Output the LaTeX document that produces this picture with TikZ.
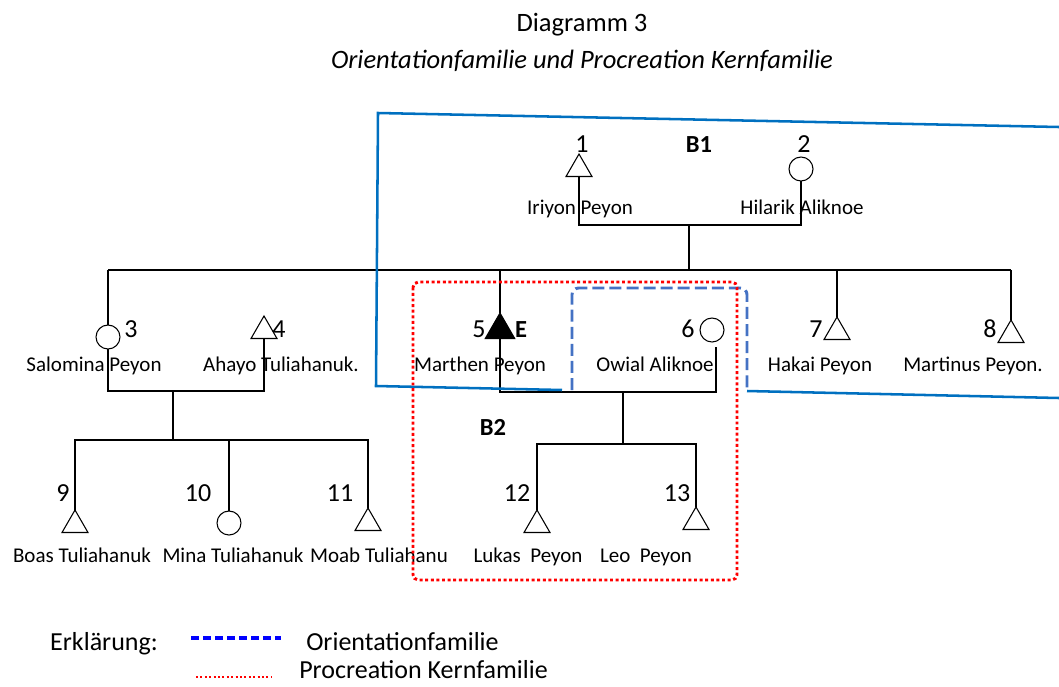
\documentclass[tikz,border=0pt]{standalone}
\usepackage{fontspec}
\setmainfont{Carlito}
\usetikzlibrary{shapes.geometric}
\definecolor{kinblue}{HTML}{0070C0}
\definecolor{orientblue}{HTML}{4472C4}
\definecolor{procred}{HTML}{FF0000}
\definecolor{legblue}{HTML}{0000FF}
\begin{document}
\begin{tikzpicture}[x=0.75pt,y=-0.75pt,
  male/.style={draw, fill=white, regular polygon, regular polygon sides=3,
    minimum size=22.5pt, inner sep=0pt, outer sep=0pt, line width=0.8pt},
  ego/.style={male, fill=black, minimum size=25.5pt},
  female/.style={draw, fill=white, circle, minimum size=18pt, inner sep=0pt,
    outer sep=0pt, line width=0.8pt},
  numlabel/.style={anchor=base, inner sep=0pt, font=\fontsize{19.5}{22}\selectfont},
  boldlabel/.style={anchor=base, inner sep=0pt, font=\fontsize{18.4}{20}\selectfont\bfseries},
  persname/.style={anchor=base, inner sep=0pt, font=\fontsize{15.75}{18}\selectfont},
  legendtext/.style={anchor=base west, inner sep=0pt, font=\fontsize{19.5}{22}\selectfont},
  kin/.style={line width=1.2pt},
  outline/.style={kinblue, line width=1.9pt},
  orientline/.style={orientblue, line width=2.2pt, dash pattern=on 9pt off 3.8pt},
  procline/.style={procred, line width=2.2pt, dash pattern=on 2.2pt off 2pt}]
\useasboundingbox (0,0) rectangle (1059,686);

% headings
\node[anchor=base, inner sep=0pt, font=\fontsize{19.9}{22}\selectfont] (title) at (582,31) {Diagramm 3};
\node[anchor=base, inner sep=0pt, font=\fontsize{19.9}{22}\selectfont\itshape] (subtitle) at (582,68)
  {Orientationfamilie und Procreation Kernfamilie};

% generation I
\node[male] (p1) at (579,169) {};
\node[female] (p2) at (801,169) {};
\node[numlabel] (n1) at (582,152) {1};
\node[numlabel] (n2) at (804,152) {2};
\node[boldlabel] (b1) at (699,152) {B1};
\node[persname] (t1) at (580,214) {Iriyon Peyon};
\node[persname] (t2) at (802,214) {Hilarik Aliknoe};

% generation II
\node[female] (p3) at (108,337) {};
\node[male] (p4) at (264,331) {};
\node[ego] (p5) at (500,330) {};
\node[female] (p6) at (712,330) {};
\node[male] (p7) at (837,332) {};
\node[male] (p8) at (1011,335) {};
\node[numlabel] (n3) at (131,337) {3};
\node[numlabel] (n4) at (279,337) {4};
\node[numlabel] (n5) at (479,337) {5};
\node[boldlabel] (egomark) at (521,337) {E};
\node[numlabel] (n6) at (688,337) {6};
\node[numlabel] (n7) at (816,337) {7};
\node[numlabel] (n8) at (990,337) {8};
\node[persname] (t3) at (94,371) {Salomina Peyon};
\node[persname] (t4) at (281,371) {Ahayo Tuliahanuk.};
\node[persname] (t5) at (480,371) {Marthen Peyon};
\node[persname] (t6) at (655,371) {Owial Aliknoe};
\node[persname] (t7) at (820,371) {Hakai Peyon};
\node[persname] (t8) at (973,371) {Martinus Peyon.};
\node[boldlabel] (b2) at (493,435) {B2};

% generation III
\node[male] (p9) at (75,525) {};
\node[female] (p10) at (229,523) {};
\node[male] (p11) at (368,523) {};
\node[male] (p12) at (537,525) {};
\node[male] (p13) at (696,522) {};
\node[numlabel] (n9) at (63,501) {9};
\node[numlabel] (n10) at (198,501) {10};
\node[numlabel] (n11) at (340,501) {11};
\node[numlabel] (n12) at (517,501) {12};
\node[numlabel] (n13) at (677,501) {13};
\node[persname] (t9) at (82,562) {Boas Tuliahanuk};
\node[persname] (t10) at (233,562) {Mina Tuliahanuk};
\node[persname] (t11) at (379,562) {Moab Tuliahanu};
\node[persname] (t12) at (528,562) {Lukas\ \ Peyon};
\node[persname] (t13) at (646,562) {Leo\ \ Peyon};

% junction points of the kinship lines
\coordinate (m12) at (689,225);
\coordinate (sibL) at (108,270);
\coordinate (sibR) at (1011,270);
\coordinate (m34) at (173,391);
\coordinate (k34) at (173,440);
\coordinate (p6foot) at (716,347);
\coordinate (m56) at (623,392);
\coordinate (k56) at (623,444);

% marriage and descent lines
\draw[kin] (p1.south) |- (m12) -| (p2.south);
\draw[kin] (m12) -- (m12 |- sibL);
\draw[kin] (sibL) -- (sibR);
\draw[kin] (p3.north |- sibL) -- (p3.north);
\draw[kin] (p5.north |- sibL) -- (p5.north);
\draw[kin] (p7.north |- sibL) -- (p7.north);
\draw[kin] (p8.north |- sibL) -- (p8.north);
\draw[kin] (p3.south) |- (m34) -| (p4.south);
\draw[kin] (m34) -- (k34);
\draw[kin] (p9.north) |- (k34) -| (p11.north);
\draw[kin] (p10.north) -- (p10.north |- k34);
\draw[kin] (p5.south) |- (m56) -| (p6foot);
\draw[kin] (m56) -- (k56);
\draw[kin] (p12.north) |- (k56) -| (p13.north);

% family boundaries
\draw[outline] (562,390) -- (376,386) -- (378,113) -- (1059,127);
\draw[outline] (747,391) -- (1059,398);
\draw[orientline, rounded corners=5pt] (572,390) -- (572,288) -- (747,288) -- (747,391);
\draw[procline, rounded corners=4pt] (413,282) rectangle (737,580);

% legend
\node[anchor=base, inner sep=0pt, font=\fontsize{19.5}{22}\selectfont] (erk) at (104,650) {Erklärung:};
\coordinate (lb1) at (191,638);
\coordinate (lb2) at (281,638);
\coordinate (lr1) at (196,677);
\coordinate (lr2) at (271,677);
\draw[legblue, line width=2.4pt, dash pattern=on 6pt off 3pt] (lb1) -- (lb2);
\draw[procred, line width=1.2pt, dash pattern=on 1.5pt off 1.8pt] (lr1) -- (lr2);
\node[legendtext] (lo) at (306,650) {Orientationfamilie};
\node[legendtext] (lp) at (299,678) {Procreation Kernfamilie};
\end{tikzpicture}
\end{document}
